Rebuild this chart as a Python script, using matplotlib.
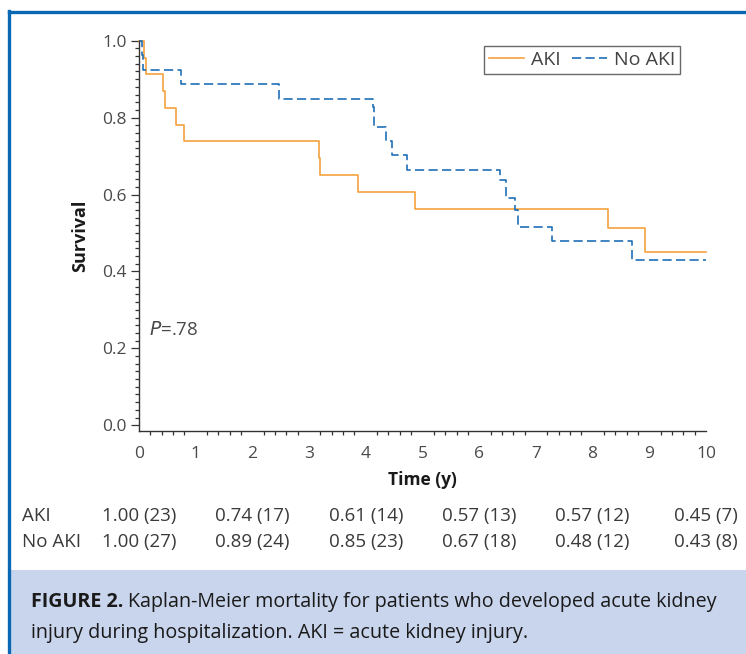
import matplotlib
matplotlib.use("Agg")
import matplotlib.pyplot as plt
from matplotlib.patches import Rectangle
from matplotlib.lines import Line2D
from matplotlib.ticker import MultipleLocator
import matplotlib.transforms as mtransforms

plt.rcParams['font.family'] = ['Open Sans', 'DejaVu Sans']

# Kaplan-Meier step data
aki_time = [0, 0.09, 0.12, 0.42, 0.45, 0.65, 0.80, 3.17, 3.19, 3.87, 4.86, 8.28, 8.93, 10]
aki_surv = [1.0, 0.956, 0.913, 0.869, 0.825, 0.780, 0.738, 0.694, 0.651, 0.607, 0.562, 0.512, 0.450, 0.450]

noaki_time = [0, 0.05, 0.07, 0.74, 2.47, 4.12, 4.14, 4.36, 4.46, 4.73, 6.37, 6.47, 6.64, 6.69, 7.29, 8.69, 10]
noaki_surv = [1.0, 0.963, 0.924, 0.887, 0.849, 0.827, 0.776, 0.740, 0.703, 0.664, 0.638, 0.590, 0.560, 0.516, 0.479, 0.430, 0.430]

# numbers at risk table
table_years = [0, 2, 4, 6, 8, 10]
aki_tab = ["1.00 (23)", "0.74 (17)", "0.61 (14)", "0.57 (13)", "0.57 (12)", "0.45 (7)"]
noaki_tab = ["1.00 (27)", "0.89 (24)", "0.85 (23)", "0.67 (18)", "0.48 (12)", "0.43 (8)"]

p_text = ".78"
caption1 = "Kaplan-Meier mortality for patients who developed acute kidney"
caption2 = "injury during hospitalization. AKI = acute kidney injury."

ORANGE = "#f5a23e"
BLUE = "#1f6fb6"
FRAME = "#0a67b4"
TXT = "#3a3a3a"
W, H = 746, 654

fig = plt.figure(figsize=(W / 100, H / 100), dpi=100)

# outer frame and caption box
fig.add_artist(Rectangle((10 / W, 0), 1 - 10 / W, 84 / H, transform=fig.transFigure,
                         facecolor="#c9d5ec", edgecolor="none"))
fig.add_artist(Line2D([8.5 / W, 8.5 / W], [0, 1 - 10.5 / H], transform=fig.transFigure,
                      color=FRAME, lw=2.4, solid_capstyle="projecting"))
fig.add_artist(Line2D([8.5 / W, 1], [1 - 11.5 / H, 1 - 11.5 / H], transform=fig.transFigure,
                      color=FRAME, lw=2.4, solid_capstyle="projecting"))

ax = fig.add_axes([139 / W, 1 - 431 / H, 567 / W, (431 - 40.7) / H])
ax.set_xlim(0, 10)
ax.set_ylim(-0.015, 1.0)

ax.step(aki_time, aki_surv, where="post", color=ORANGE, lw=1.2, label="AKI", clip_on=False)
ln, = ax.step(noaki_time, noaki_surv, where="post", color=BLUE, lw=1.2, label="No AKI", clip_on=False)
ln.set_dashes([5.5, 2.6])

for s in ["top", "right"]:
    ax.spines[s].set_visible(False)
for s in ["left", "bottom"]:
    ax.spines[s].set_color("#333333")
    ax.spines[s].set_linewidth(1.0)

ax.xaxis.set_major_locator(MultipleLocator(1))
ax.xaxis.set_minor_locator(MultipleLocator(0.2))
ax.yaxis.set_minor_locator(MultipleLocator(0.02))
ax.set_yticks([0, 0.2, 0.4, 0.6, 0.8, 1.0])
ax.set_yticklabels(["0.0", "0.2", "0.4", "0.6", "0.8", "1.0"])
ax.tick_params(axis="x", which="major", length=0, pad=11, labelsize=12.5, labelcolor="#4a4a4a")
ax.tick_params(axis="x", which="minor", length=3, width=0.9, color="#333333")
ax.tick_params(axis="y", which="major", length=6, width=0.9, color="#333333", pad=3,
               labelsize=12.5, labelcolor="#4a4a4a")
ax.tick_params(axis="y", which="minor", length=3, width=0.9, color="#333333")

ax.set_xlabel("Time (y)", fontsize=12.5, fontweight="bold", color="#1a1a1a", labelpad=6)
ax.set_ylabel("Survival", fontsize=13, fontweight="bold", color="#1a1a1a", labelpad=9)

ax.text(0.18, 0.247, "$\\mathit{P}$=" + p_text, fontsize=13.5, color="#4a4a4a", va="center")

leg = ax.legend(loc="upper right", ncol=2, bbox_to_anchor=(680 / W, 1 - 46 / H),
                bbox_transform=fig.transFigure, borderaxespad=0, fancybox=False,
                frameon=True, fontsize=14, handlelength=1.8, columnspacing=0.6,
                handletextpad=0.35, borderpad=0.25)
leg.get_frame().set_edgecolor("#444444")
leg.get_frame().set_linewidth(1.0)
for t in leg.get_texts():
    t.set_color("#444444")

# risk table under the axis
tr = mtransforms.blended_transform_factory(ax.transData, fig.transFigure)
fig.text(22 / W, 1 - 516 / H, "AKI", fontsize=13.5, color=TXT, va="center")
fig.text(22 / W, 1 - 542 / H, "No AKI", fontsize=13.5, color=TXT, va="center")
for yr, a, b in zip(table_years, aki_tab, noaki_tab):
    ax.text(yr, 1 - 516 / H, a, transform=tr, fontsize=13.5, color=TXT, ha="center", va="center", clip_on=False)
    ax.text(yr, 1 - 542 / H, b, transform=tr, fontsize=13.5, color=TXT, ha="center", va="center", clip_on=False)

# caption
cap = fig.text(31 / W, 1 - 607 / H, "FIGURE 2.", fontsize=14.2, fontweight="bold", color="#1a1a1a", va="baseline")
fig.canvas.draw()
bb = cap.get_window_extent()
fig.text(bb.x1 / W + 5 / W, 1 - 607 / H, caption1, fontsize=14.2, color="#1a1a1a", va="baseline")
fig.text(31 / W, 1 - 638 / H, caption2, fontsize=14.2, color="#1a1a1a", va="baseline")

fig.savefig("out.png", dpi=100)
